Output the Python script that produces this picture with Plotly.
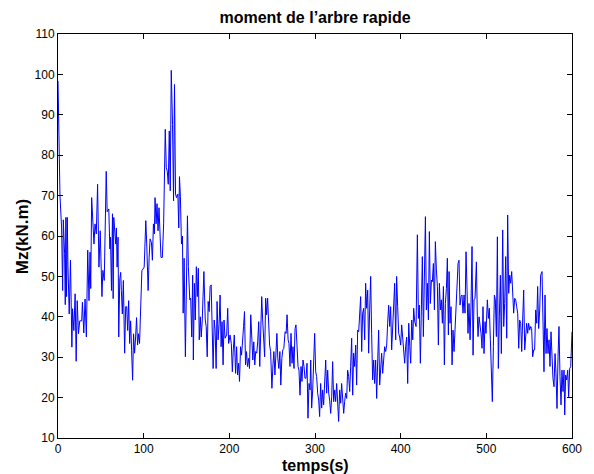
import plotly.graph_objects as go

# time (s) and moment Mz (kN.m)
t_a = [0, 2.3, 4.2, 5.4, 6.2, 7.7, 8.5, 9.2, 10.0, 10.8, 11.6, 12.3, 13.1, 14.6, 16.2, 17.0, 18.5, 20.0, 21.2, 22.4,
       23.9, 25.4, 27.7, 28.5, 30.1, 31.6, 33.1, 34.7, 36.2, 37.4, 38.2, 39.3, 40.5, 42.0, 43.2, 44.7, 46.2, 47.8, 49.3, 51.3,
       52.4, 54.0, 56.3, 57.4, 59.3, 60.5, 61.3, 62.4, 63.6, 64.4, 65.1, 66.3, 67.4, 68.2, 69.0, 70.1, 70.9, 72.1, 73.2, 74.0,
       75.1, 76.3, 77.8, 79.0, 80.2, 81.3, 82.5, 83.6, 84.8, 85.9, 87.1, 88.2, 89.4, 90.6, 91.7, 92.9, 94.0, 95.2, 97.9, 100.6,
       102.5, 103.7, 105.2, 106.4, 107.5, 109.1, 110.2, 111.4, 112.5, 113.3, 114.5, 115.6, 116.8, 117.9, 119.1, 120.2, 121.8, 123.3, 125.2, 126.4,
       127.6, 128.7, 129.9, 131.0, 132.2, 133.7, 134.9, 136.0, 137.2, 138.3, 139.9, 141.0, 141.8, 142.9, 144.1]
m_a = [98.4, 70, 62, 46.5, 64, 55.6, 43, 64.6, 45, 64.6, 52.7, 47, 40.7, 54, 32.5, 42, 36.6, 45.7, 29, 44,
       35.8, 39, 39, 43.6, 36, 44.4, 35, 56.5, 44, 56, 47, 69.5, 63, 58, 63, 60.5, 72.8, 52.3, 61.3, 45,
       51.5, 49, 76, 66, 66.7, 56.8, 59.7, 46.5, 65.5, 44.5, 64.6, 62, 58, 62, 52.3, 59.7, 35, 49.4, 51, 46.5,
       40.7, 49, 31, 42.5, 42.5, 36.6, 44, 33.4, 39, 31.7, 24.3, 35.8, 31, 35, 39.8, 33, 35.8, 33.4, 51.4, 52.3,
       63.8, 57.3, 46.5, 54.7, 59.3, 58.4, 54, 63, 60.5, 69.5, 63, 68, 61.3, 67, 60.5, 54.7, 54.7, 63, 86.4, 77,
       76, 72.8, 86, 71.2, 101, 87.6, 68.7, 97.5, 70.4, 69.5, 70.4, 62, 74.7, 69.7, 58]

t_b = [145.3, 146.1, 147.2, 148.7, 149.9, 151.1, 152.2, 153.8, 154.9, 156.1, 157.2, 158.0, 159.2, 160.3, 161.5, 162.6, 163.8, 164.9, 166.1, 167.2,
       168.4, 170.3, 171.9, 173.0, 174.2, 175.3, 176.5, 177.6, 178.8, 180.0, 181.1, 182.3, 183.4, 184.6, 185.7, 186.9, 188.1, 189.2, 190.4, 191.5,
       192.7, 193.8, 195.0, 196.9, 198.1, 199.2, 200.8, 202.3, 203.5, 204.6, 205.8, 207.3, 208.5, 209.6, 210.8, 211.9, 213.1, 214.3, 215.4, 216.6,
       217.7, 218.9, 220.0, 221.2, 222.4, 223.5, 225.0, 226.2, 227.4, 228.5, 229.7, 230.8, 232.0, 233.1, 234.3, 235.5, 236.6, 237.8, 238.9, 240.1,
       241.2, 242.4, 243.5, 244.7, 245.9, 247.0, 248.2, 249.7, 250.9, 252.0, 253.2, 254.3, 255.5, 256.6, 257.8, 259.0, 260.1, 261.3, 262.4, 263.6,
       265.1, 266.3, 267.4, 268.6]
m_b = [60, 40.9, 54.5, 30.1, 53.2, 65, 52.4, 44.2, 44.6, 35, 50.3, 29.3, 48.3, 39.2, 52.4, 45, 52, 34.3, 40, 35,
       39.2, 51.2, 39.2, 37.6, 30.1, 43.8, 41.3, 47.5, 47.9, 39.2, 27.2, 39.2, 36.7, 27.2, 43.8, 34.3, 38.4, 45.4, 32.6, 38.8,
       28.1, 39.2, 34.7, 35.5, 42.1, 33.4, 35.5, 33.4, 26.4, 31.8, 35.5, 26, 32.6, 25.6, 28.5, 24, 32.6, 30.5, 35.5, 37.6,
       41.3, 28.1, 31.4, 27.7, 29.7, 27.2, 40.5, 36.3, 29.3, 33.8, 28.1, 31.4, 31, 33.8, 38.8, 27.7, 36.7, 45, 39.2, 35,
       30.1, 44.6, 40.5, 44.6, 35.9, 33, 31.4, 22.3, 28.1, 31.4, 25.6, 33.4, 35.9, 29.7, 27.2, 31.4, 23.1, 29.7, 31.8, 32.2,
       36.3, 35.9, 40.5, 34.3]

t_c = [269.6, 270.8, 272.0, 273.2, 274.3, 275.5, 276.7, 277.8, 279.0, 280.2, 281.3, 282.5, 283.7, 284.8, 286.0, 287.2, 288.3, 289.5, 290.7, 291.8,
       293.0, 294.2, 295.0, 296.1, 297.3, 298.4, 299.6, 300.8, 301.9, 303.1, 304.3, 305.4, 306.6, 307.8, 308.9, 310.1, 311.3, 312.5, 313.6, 314.8,
       316.0, 317.1, 318.3, 319.5, 320.6, 321.8, 323.0, 324.1, 325.3, 326.5, 327.6, 328.8, 330.0, 331.1, 332.3, 333.5, 334.6, 335.8, 337.0, 338.1,
       339.3, 340.5, 341.6, 342.8, 344.0, 345.1, 346.3, 347.5, 348.6, 349.8, 351.0, 352.1, 353.3, 354.5, 355.6, 356.8, 358.0, 359.1, 360.3, 361.5,
       362.6, 363.8, 365.0, 366.1, 367.3, 368.5, 369.6, 370.8, 372.0, 373.2, 374.3, 375.5, 376.7, 377.8, 379.0, 380.2, 381.3, 382.5, 383.7, 384.8,
       386.0, 387.2, 388.3, 389.5, 390.7, 391.8, 393.0, 394.2, 395.3, 396.5, 397.7, 398.8, 400.0, 401.2, 402.3, 403.5, 404.7, 405.8, 407.0, 408.2]
m_c = [33.4, 27.7, 35.9, 28.5, 32.6, 27.2, 37.1, 38, 31, 27.7, 26.8, 20.6, 27.7, 24, 29.3, 27.7, 24.8, 24.8, 28.5, 14.9,
       23.5, 21.9, 29.3, 17.4, 21.9, 30.1, 35.9, 26.4, 25.2, 21.1, 19.4, 15.3, 23.5, 17.4, 21.9, 18.2, 22.7, 29.3, 21.1, 26.8,
       21.1, 19.4, 16.1, 20.2, 28.9, 19, 21.9, 19, 23.5, 19, 14.1, 21.9, 18.6, 23.5, 18.6, 16.1, 19, 21.1, 19.8, 26.8,
       25.2, 21.5, 27.7, 34.7, 20.6, 31, 27.7, 33, 23.1, 36.7, 36.3, 40.5, 45, 31.4, 40.9, 42.1, 34.3, 48.3, 42.1, 46.6,
       31, 41.7, 50, 35.9, 24.4, 29.3, 23.5, 29.3, 19.8, 29.3, 36.7, 23.1, 27.7, 31, 26, 31, 32.6, 31.4, 33, 38.4,
       42.9, 37.6, 42.5, 31.8, 38.4, 43.3, 48.3, 34.3, 50, 42.5, 35.9, 35, 33, 38, 35, 31.8, 28.5, 32.6, 35, 23.5]

t_d = [409.4, 410.6, 411.7, 412.9, 414.1, 415.2, 416.4, 418.0, 419.5, 420.7, 421.8, 423.0, 424.2, 425.3, 426.5, 427.7, 428.9, 430.0, 431.2, 432.4,
       433.5, 434.7, 435.9, 437.0, 438.2, 439.4, 440.5, 441.7, 442.9, 444.0, 445.2, 446.4, 447.5, 448.7, 449.9, 451.0, 452.2, 453.4, 454.5, 455.7,
       456.5, 457.6, 458.8, 460.0, 461.1, 462.3, 463.5, 465.4, 467.0, 468.1, 469.3, 470.5, 471.6, 472.8, 474.0, 475.1, 476.3, 477.5, 478.6, 479.8,
       481.0, 482.1, 483.3, 484.5, 485.6, 486.8, 488.4, 489.5, 490.3, 491.5, 492.6, 493.8, 495.0, 496.1, 497.3, 498.5, 499.6, 501.2, 502.4, 503.5,
       504.7, 505.9, 507.0, 508.2, 509.4, 510.5, 511.7, 512.9, 514.0, 515.2, 516.4, 517.5, 519.1, 520.3, 521.4, 522.6, 523.8, 524.9, 526.1, 527.3,
       528.4, 529.6, 530.8, 531.9, 533.1, 534.3, 535.4, 536.6, 537.8, 538.9, 540.1, 541.3, 542.4, 543.6, 544.8, 545.9, 547.1, 548.3, 549.4, 550.6,
       551.8, 552.9, 554.1, 555.3, 556.4, 557.6, 558.8, 559.9, 561.1, 562.3, 563.4, 565.0, 566.2, 567.3, 568.5, 569.7, 570.8, 572.0, 573.2, 574.3,
       575.5, 576.7, 577.8, 579.0, 580.2, 581.3, 582.5, 583.7, 584.8, 586.0, 587.2, 588.3, 589.5, 590.7, 591.5, 592.6, 593.8, 595.0, 596.1, 597.3,
       598.5, 600.0]
m_d = [38.4, 32.6, 28.5, 39.2, 34.3, 42.1, 38.8, 37.6, 60.3, 39.6, 42.9, 28.5, 40, 54.9, 35.1, 53.2, 64.8, 41.7, 48.3, 39.2,
       61.1, 43.3, 49.1, 48.7, 53.2, 41.7, 58.6, 51.6, 47.5, 33, 48.3, 41.7, 44.2, 38.4, 47.5, 28.1, 43.3, 47, 54.5, 35.5,
       51.2, 38.4, 42.5, 28.1, 36.7, 31.4, 37.1, 45, 53.2, 54, 42.9, 45, 45.4, 40.9, 45.4, 40.9, 56.1, 46.6, 35.9, 43.3,
       34.3, 42.9, 57.4, 30.5, 44.2, 44.6, 53.6, 40, 35.1, 40, 38.4, 35.9, 32.2, 42.5, 30.9, 38.8, 35.9, 44.2, 39.6, 42.1,
       34.3, 27.7, 19, 32.6, 45.4, 44.2, 35.1, 59.8, 27.2, 40, 50.3, 30.9, 61.5, 37.6, 43.3, 54.9, 34.7, 65.2, 45.8, 50.3,
       48.3, 51.2, 46.6, 40.9, 44.6, 44.2, 42.5, 40.9, 32.2, 39.2, 38.4, 31.4, 39.2, 46.6, 31.8, 34.3, 38.4, 35.9, 38.4, 36.7,
       37.6, 37.1, 30.1, 31.8, 31.8, 41.7, 38.4, 47.5, 37.1, 41.7, 50.3, 51.2, 41.7, 26.4, 45.4, 30.9, 37.1, 30.9, 34.3, 27.7,
       36.3, 26.8, 24.7, 22.7, 30.9, 26, 17.3, 30.1, 37.6, 25.2, 18.2, 26.8, 21.5, 26.8, 15.7, 25.6, 24.4, 26.8, 20.2, 27.2,
       27.7, 36.3]

temps = t_a + t_b + t_c + t_d
mz = m_a + m_b + m_c + m_d

x_ticks = [0, 100, 200, 300, 400, 500, 600]
y_ticks = [10, 20, 30, 40, 50, 60, 70, 80, 90, 100, 110]

FONT = "Liberation Sans, Arial, Helvetica, sans-serif"

fig = go.Figure()
fig.add_trace(go.Scatter(x=temps, y=mz, mode="lines",
                         line=dict(color="#0000FF", width=1), hoverinfo="skip"))

axis_common = dict(
    showline=True, linecolor="black", linewidth=1, mirror="ticks",
    ticks="inside", ticklen=5, tickcolor="black", tickwidth=1,
    showgrid=False, zeroline=False,
    tickfont=dict(family=FONT, size=12, color="black"),
)
fig.update_xaxes(range=[0, 600], tickvals=x_ticks, **axis_common)
fig.update_yaxes(range=[10, 110], tickvals=y_ticks, **axis_common)

fig.update_layout(
    width=594, height=474,
    margin=dict(l=58, r=18, t=34, b=36),
    paper_bgcolor="white", plot_bgcolor="white",
    showlegend=False,
    hovermode=False,
    title=dict(text="<b>moment de l\u2019arbre rapide</b>",
               font=dict(family=FONT, size=16, color="black"),
               x=0.5, xref="paper", xanchor="center",
               y=1 - 17 / 474, yref="container", yanchor="middle"),
    annotations=[
        dict(text="<b>temps(s)</b>", xref="paper", yref="paper",
             x=0.5, y=-27 / 404, xanchor="center", yanchor="middle",
             showarrow=False, font=dict(family=FONT, size=16, color="black")),
        dict(text="<b>Mz(kN.m)</b>", xref="paper", yref="paper",
             x=-36 / 518, y=0.5, xanchor="center", yanchor="middle", textangle=-90,
             showarrow=False, font=dict(family=FONT, size=17, color="black")),
    ],
)

fig.write_html("out.html", config={"displayModeBar": False, "staticPlot": True},
               post_script="document.body.style.margin='0';document.body.style.overflow='hidden';")
